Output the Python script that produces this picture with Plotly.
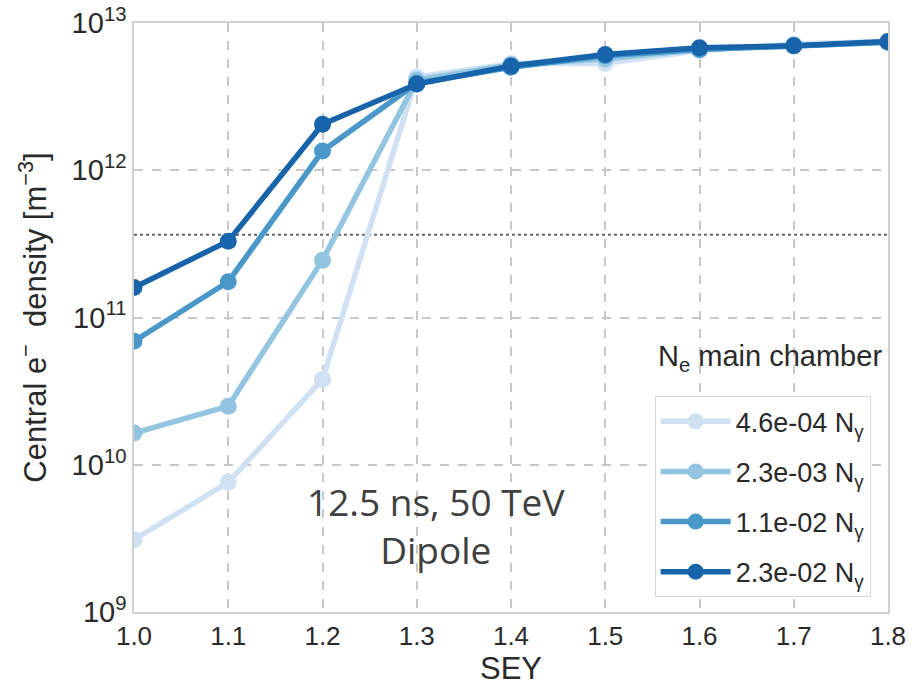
import plotly.graph_objects as go

# Secondary electron yield scan
sey = [1.0, 1.1, 1.2, 1.3, 1.4, 1.5, 1.6, 1.7, 1.8]

# Central electron density [m^-3] for each photoelectron fraction
dens_46e4 = [3.1e9, 7.6e9, 3.8e10, 4.3e12, 5.3e12, 5.3e12, 6.5e12, 7.2e12, 7.5e12]
dens_23e3 = [1.64e10, 2.5e10, 2.45e11, 4.1e12, 5.2e12, 5.7e12, 6.6e12, 7.0e12, 7.4e12]
dens_11e2 = [6.9e10, 1.75e11, 1.35e12, 3.9e12, 5.0e12, 6.0e12, 6.6e12, 7.0e12, 7.4e12]
dens_23e2 = [1.6e11, 3.3e11, 2.05e12, 3.85e12, 5.1e12, 6.1e12, 6.8e12, 7.0e12, 7.5e12]

series_labels = ["4.6e-04 N<sub>γ</sub>", "2.3e-03 N<sub>γ</sub>",
                 "1.1e-02 N<sub>γ</sub>", "2.3e-02 N<sub>γ</sub>"]
series_values = [dens_46e4, dens_23e3, dens_11e2, dens_23e2]
series_colors = ["#cfe1f2", "#93c4e0", "#4a98c9", "#1764ab"]

# Reference density level (dotted line)
threshold = 3.65e11

ytick_vals = [1e9, 1e10, 1e11, 1e12, 1e13]
ytick_text = ["10<sup>9</sup>", "10<sup>10</sup>", "10<sup>11</sup>",
              "10<sup>12</sup>", "10<sup>13</sup>"]
xtick_vals = [1.0, 1.1, 1.2, 1.3, 1.4, 1.5, 1.6, 1.7, 1.8]

fig = go.Figure()

fig.add_trace(go.Scatter(
    x=[sey[0], sey[-1]], y=[threshold, threshold], mode="lines",
    line=dict(color="#666666", width=2, dash="dot"),
    showlegend=False, hoverinfo="skip"))

for i, (lab, vals, col) in enumerate(zip(series_labels, series_values, series_colors)):
    fig.add_trace(go.Scatter(
        x=sey, y=vals, mode="lines+markers", name=lab,
        legendgroup=f"g{i}",
        line=dict(color=col, width=5.5),
        marker=dict(color=col, size=17),
    ))

fig.update_layout(
    width=920, height=688,
    margin=dict(l=134, r=32, t=23, b=76),
    paper_bgcolor="white", plot_bgcolor="white",
    font=dict(family="Liberation Sans, Arial, sans-serif", size=26, color="#2a2a2a"),
    showlegend=True,
    legend=dict(
        x=0.977, xanchor="right", y=0.025, yanchor="bottom",
        bgcolor="white", bordercolor="#d6d6d6", borderwidth=1,
        font=dict(size=27, color="#2a2a2a"),
        tracegroupgap=12, traceorder="grouped",
        itemwidth=70,
    ),
    annotations=[
        dict(text="N<sub>e</sub> main chamber", xref="paper", yref="paper",
             x=0.995, y=0.398, xanchor="right", yanchor="bottom",
             showarrow=False, font=dict(size=29, color="#2a2a2a")),
        dict(text="12.5 ns, 50 TeV<br>Dipole", xref="paper", yref="paper",
             x=0.4, y=0.06, xanchor="center", yanchor="bottom",
             showarrow=False, align="center",
             font=dict(family="Open Sans, sans-serif", size=37, color="#404040")),
    ],
)

fig.update_xaxes(
    range=[1.0, 1.8], tickvals=xtick_vals, tickformat=".1f",
    title=dict(text="SEY", standoff=6), automargin=False,
    showgrid=True, gridcolor="#c8c8c8", griddash="dash", gridwidth=1.5,
    showline=True, linecolor="#d0d0d0", linewidth=1.5, mirror=True,
    ticks="", zeroline=False,
)
fig.update_yaxes(
    type="log", range=[9, 13], tickvals=ytick_vals, ticktext=ytick_text,
    tickfont=dict(size=29), automargin=False,
    title=dict(text="Central e<sup>−</sup>  density [m<sup>−3</sup>]", standoff=16),
    showgrid=True, gridcolor="#c8c8c8", griddash="dash", gridwidth=1.5,
    showline=True, linecolor="#d0d0d0", linewidth=1.5, mirror=True,
    ticks="", zeroline=False,
)

fig.write_html("out.html")
